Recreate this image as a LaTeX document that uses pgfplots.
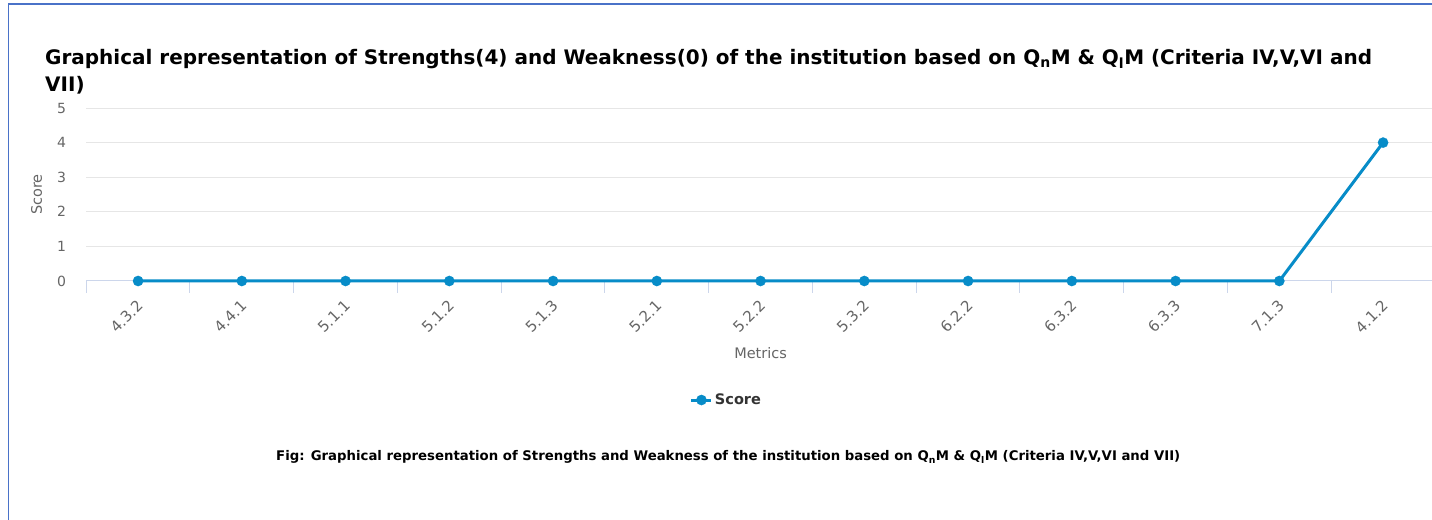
\documentclass[border=0pt]{standalone}
\usepackage{pgfplots}
\pgfplotsset{compat=1.18}
\usepackage{fontspec}
\setmainfont{DejaVu Sans}
\definecolor{linec}{HTML}{078CC8}
\definecolor{gridc}{HTML}{E6E6E6}
\definecolor{axisc}{HTML}{CCD6EB}
\definecolor{labc}{HTML}{666666}
\definecolor{legc}{HTML}{333333}
\definecolor{borderc}{HTML}{4A72C8}
\newcommand\titleA{Graphical representation of Strengths(4) and Weakness(0) of the institution based on Q\textsubscript{n}M \& Q\textsubscript{l}M (Criteria IV,V,VI and}
\newcommand\captxt{Fig: Graphical representation of Strengths and Weakness of the institution based on Q\textsubscript{n}M \& Q\textsubscript{l}M (Criteria IV,V,VI and VII)}
\newlength\tw
\newlength\cw
\settowidth\tw{\fontsize{18bp}{22bp}\selectfont\bfseries\titleA}
\settowidth\cw{\fontsize{14bp}{17bp}\selectfont\bfseries\captxt}
\pgfmathsetmacro\tsize{18*(1327/\tw)*1.00375}
\pgfmathsetmacro\csize{14*(904/\cw)*1.00375}
\begin{document}
\begin{tikzpicture}
\useasboundingbox (0,0) rectangle (1432bp,520bp);
\fill[white] (0,0) rectangle (1432bp,520bp);
\draw[borderc, line width=1.2bp] (8.3bp,0) -- (8.3bp,516bp) -- (1432bp,516bp);
\node[anchor=base west, inner sep=0pt, text=black, font=\fontsize{\tsize bp}{27bp}\selectfont\bfseries] at (45bp,455.5bp) {\titleA};
\node[anchor=base west, inner sep=0pt, text=black, font=\fontsize{\tsize bp}{27bp}\selectfont\bfseries] at (45bp,428.3bp) {VII)};
\node[anchor=base west, inner sep=0pt, text=black, font=\fontsize{\csize bp}{17bp}\selectfont\bfseries] at (276bp,59bp) {\captxt};
\begin{axis}[
  at={(86.2bp,239bp)}, anchor=south west,
  scale only axis, width=1348.75bp, height=173bp,
  xmin=-0.5, xmax=12.5, ymin=0, ymax=5,
  /pgf/number format/assume math mode=true,
  axis x line*=bottom, axis y line*=left,
  x axis line style={draw=axisc, line width=1bp, -},
  y axis line style={draw=none},
  xtick={0,...,12},
  xticklabels={4.3.2,4.4.1,5.1.1,5.1.2,5.1.3,5.2.1,5.2.2,5.3.2,6.2.2,6.3.2,6.3.3,7.1.3,4.1.2},
  minor xtick={-0.5,0.5,...,12.5},
  ytick={0,1,2,3,4,5},
  tick align=outside,
  major tick length=0pt,
  minor tick length=12bp,
  xtick style={draw=axisc, line width=1bp},
  ytick style={draw=none},
  ymajorgrids, major grid style={draw=gridc, line width=1bp},
  tick label style={font=\fontsize{14bp}{16bp}\selectfont, text=labc},
  xticklabel style={font=\fontsize{15bp}{17bp}\selectfont, yshift=-22bp, xshift=2bp, rotate=45, anchor=east, inner sep=0pt},
  yticklabel style={anchor=east, inner sep=0pt, xshift=-20bp},
  xlabel={Metrics}, ylabel={Score},
  label style={font=\fontsize{14.5bp}{16bp}\selectfont, text=labc},
  xlabel style={at={(axis description cs:0.5,-0.416)}, anchor=center},
  ylabel style={at={(axis description cs:-0.0367,0.5)}, anchor=center},
  legend style={at={(axis description cs:0.4747,-0.688)}, anchor=center, draw=none, fill=none,
    font=\fontsize{14.5bp}{16bp}\selectfont\bfseries, text=legc},
  legend image code/.code={\draw[mark repeat=2,mark phase=2,#1] plot coordinates {(0bp,0bp) (10bp,0bp) (20bp,0bp)};},
  clip=false,
]
\addplot[color=linec, line width=3bp, mark=*, mark size=5.2bp, mark options={fill=linec, draw=linec, line width=0.1bp}]
  coordinates {(0,0) (1,0) (2,0) (3,0) (4,0) (5,0) (6,0) (7,0) (8,0) (9,0) (10,0) (11,0) (12,4)};
\addlegendentry{Score}
\end{axis}
\end{tikzpicture}
\end{document}
